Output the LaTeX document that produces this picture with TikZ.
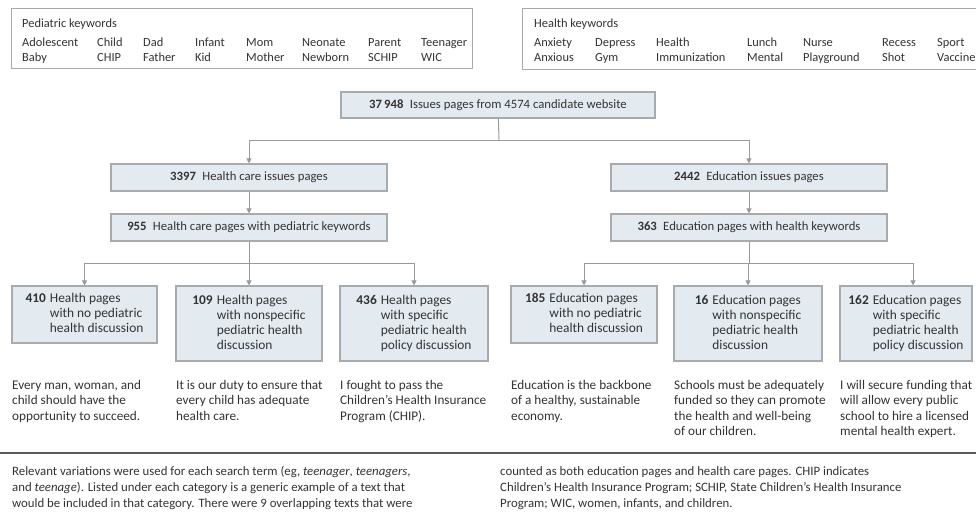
\documentclass[tikz,border=0pt]{standalone}
\usepackage{fontspec}
\setmainfont{Carlito}
\usetikzlibrary{arrows.meta}
\definecolor{txt}{HTML}{333333}
\definecolor{bfill}{HTML}{E4EBF0}
\definecolor{bdraw}{HTML}{A8ABAE}
\definecolor{lgray}{HTML}{999999}
\definecolor{rulec}{HTML}{5A5A5A}
\begin{document}
\begin{tikzpicture}[x=1pt,y=-1pt,
  every node/.style={text=txt},
  font=\fontsize{12.4}{15.5}\selectfont,
  kwbox/.style={draw=bdraw, fill=white, line width=0.9pt, anchor=north west, inner sep=0},
  kw/.style={anchor=base west, inner sep=0},
  fbox/.style={draw=bdraw, fill=bfill, line width=1.1pt, inner sep=0, align=center, font=\fontsize{12.7}{15}\selectfont},
  sbox/.style={fbox, font=\fontsize{13.4}{15}\selectfont},
  conn/.style={draw=lgray, line width=1pt},
  arr/.style={conn, -{Triangle[length=5pt,width=5pt]}},
  quote/.style={anchor=base west, inner sep=0, font=\fontsize{13.2}{15.5}\selectfont},
  capt/.style={anchor=base west, inner sep=0, font=\fontsize{12.8}{16}\selectfont}
]
\useasboundingbox (0,0) rectangle (976,527);

% keyword boxes
\node[kwbox, minimum width=461, minimum height=60] (pk) at (11,8) {};
\node[kwbox, minimum width=470, minimum height=61] (hk) at (522,8) {};
\node[kw] (pkt) at (22,27.5) {Pediatric keywords};
\node[kw] (hkt) at (534,27.5) {Health keywords};
\foreach \x/\a/\b [count=\i] in {22/Adolescent/Baby, 97/Child/CHIP, 143/Dad/Father, 195/Infant/Kid, 246/Mom/Mother, 302/Neonate/Newborn, 368/Parent/SCHIP, 421/Teenager/WIC}{
  \node[kw] (pa\i) at (\x,46) {\a};
  \node[kw] (pb\i) at (\x,61) {\b};
}
\foreach \x/\a/\b [count=\i] in {534/Anxiety/Anxious, 595/Depress/Gym, 656/Health/Immunization, 747/Lunch/Mental, 803/Nurse/Playground, 882/Recess/Shot, 937/Sport/Vaccine}{
  \node[kw] (ha\i) at (\x,46) {\a};
  \node[kw] (hb\i) at (\x,61) {\b};
}

% flow boxes
\node[fbox, minimum width=314, minimum height=26] (top) at (498,105) {\textbf{37\,948}\enspace Issues pages from 4574 candidate website};
\node[fbox, minimum width=276, minimum height=27] (h1) at (249,177.5) {\textbf{3397}\enspace Health care issues pages};
\node[fbox, minimum width=276, minimum height=27] (h2) at (249,227.5) {\textbf{955}\enspace Health care pages with pediatric keywords};
\node[fbox, minimum width=276, minimum height=27] (e1) at (749,177.5) {\textbf{2442}\enspace Education issues pages};
\node[fbox, minimum width=276, minimum height=27] (e2) at (749,227.5) {\textbf{363}\enspace Education pages with health keywords};

\newcommand{\bx}[4]{\begin{tabular}{@{}l@{\hspace{4pt}}l@{}}\textbf{#1} & #2\\ & #3\\ & #4\end{tabular}}
\newcommand{\bxx}[5]{\begin{tabular}{@{}l@{\hspace{4pt}}l@{}}\textbf{#1} & #2\\ & #3\\ & #4\\ & #5\end{tabular}}

\node[sbox, minimum width=145, minimum height=57] (b1) at (84.5,314.5) {\bx{410}{Health pages}{with no pediatric}{health discussion}};
\node[sbox, minimum width=146, minimum height=75] (b2) at (249,323.5) {\bxx{109}{Health pages}{with nonspecific}{pediatric health}{discussion}};
\node[sbox, minimum width=148, minimum height=75] (b3) at (414,323.5) {\bxx{436}{Health pages}{with specific}{pediatric health}{policy discussion}};
\node[sbox, minimum width=146, minimum height=57] (b4) at (584,314.5) {\bx{185}{Education pages}{with no pediatric}{health discussion}};
\node[sbox, minimum width=148, minimum height=75] (b5) at (748,323.5) {\bxx{16}{Education pages}{with nonspecific}{pediatric health}{discussion}};
\node[sbox, minimum width=132, minimum height=75] (b6) at (906,323.5) {\bxx{162}{Education pages}{with specific}{pediatric health}{policy discussion}};

% connectors
\coordinate (j0) at (499,140);
\coordinate (jh) at (249,263);
\coordinate (je) at (749,263);
\draw[conn] (top) -- (j0);
\draw[arr] (j0) -| (h1);
\draw[arr] (j0) -| (e1);
\draw[arr] (h1) -- (h2);
\draw[arr] (e1) -- (e2);
\draw[conn] (h2) -- (jh);
\draw[conn] (e2) -- (je);
\draw[arr] (jh) -| (b1);
\draw[arr] (jh) -- (b2);
\draw[arr] (jh) -| (b3);
\draw[arr] (je) -| (b4);
\draw[arr] (je) -| (b5);
\draw[arr] (je) -| ([xshift=7pt]b6.north);

% quotes
\node[quote] (q1) at (12,389) {\begin{tabular}[t]{@{}l@{}}Every man, woman, and\\child should have the\\opportunity to succeed.\end{tabular}};
\node[quote] (q2) at (176,389) {\begin{tabular}[t]{@{}l@{}}It is our duty to ensure that\\every child has adequate\\health care.\end{tabular}};
\node[quote] (q3) at (340,389) {\begin{tabular}[t]{@{}l@{}}I fought to pass the\\Children's Health Insurance\\Program (CHIP).\end{tabular}};
\node[quote] (q4) at (511,389) {\begin{tabular}[t]{@{}l@{}}Education is the backbone\\of a healthy, sustainable\\economy.\end{tabular}};
\node[quote] (q5) at (674,389) {\begin{tabular}[t]{@{}l@{}}Schools must be adequately\\funded so they can promote\\the health and well-being\\of our children.\end{tabular}};
\node[quote] (q6) at (840,389) {\begin{tabular}[t]{@{}l@{}}I will secure funding that\\will allow every public\\school to hire a licensed\\mental health expert.\end{tabular}};

% rule
\coordinate (r0) at (0,453);
\coordinate (r1) at (976,453);
\draw[rulec, line width=1.6pt] (r0) -- (r1);

% caption
\node[capt] (c1) at (12,475) {\begin{tabular}[t]{@{}l@{}}Relevant variations were used for each search term (eg, \textit{teenager}, \textit{teenagers},\\and \textit{teenage}). Listed under each category is a generic example of a text that\\would be included in that category. There were 9 overlapping texts that were\end{tabular}};
\node[capt] (c2) at (500,475) {\begin{tabular}[t]{@{}l@{}}counted as both education pages and health care pages. CHIP indicates\\Children's Health Insurance Program; SCHIP, State Children's Health Insurance\\Program; WIC, women, infants, and children.\end{tabular}};
\end{tikzpicture}
\end{document}
